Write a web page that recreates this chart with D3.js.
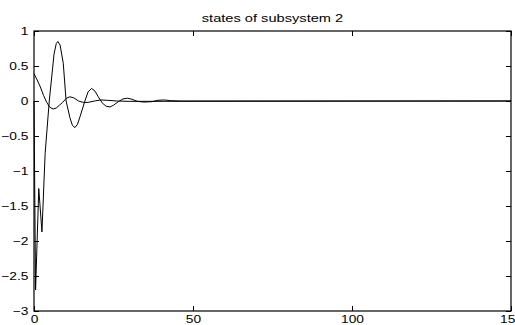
<!DOCTYPE html>
<html>
<head>
<meta charset="utf-8">
<script src="https://cdn.jsdelivr.net/npm/d3@7"></script>
<style>
  body { margin: 0; background: #fff; }
  text { font-family: "Liberation Sans", Arial, sans-serif; fill: #000; }
</style>
</head>
<body>
<div id="chart"></div>
<script>
// state 1 (large oscillation)
const t1 = [0, 0.5, 1.5, 2.5, 3.5, 4.8, 6.3, 7.0, 7.5, 8.2, 9.2, 10.1, 11.3, 12.1, 12.9, 13.7, 14.5, 16, 17, 18.1, 19.2, 20.2, 21.5, 22.7, 23.9, 25, 26.5, 28, 29.4, 30.8, 32.5, 34.5, 37, 39, 41, 43, 46, 150];
const x1 = [0, -2.7, -1.25, -1.87, -0.75, 0, 0.67, 0.82, 0.85, 0.8, 0.54, 0, -0.24, -0.35, -0.38, -0.33, -0.22, 0, 0.13, 0.18, 0.14, 0.06, -0.03, -0.075, -0.085, -0.06, -0.01, 0.03, 0.04, 0.025, -0.005, -0.015, -0.01, 0.01, 0.015, 0.005, 0, 0];
// state 2 (small oscillation)
const t2 = [0, 1, 2, 3, 4, 5, 6, 7, 8, 9, 10.2, 11.3, 12.5, 14, 15.5, 17, 19, 21, 23, 26, 30, 150];
const x2 = [0.39, 0.3, 0.2, 0.08, -0.02, -0.09, -0.115, -0.1, -0.06, -0.02, 0.04, 0.06, 0.045, 0, -0.02, -0.02, 0, 0.015, 0.01, 0, -0.005, 0];

const xTicks = [0, 50, 100, 150];
const yTicks = [-3, -2.5, -2, -1.5, -1, -0.5, 0, 0.5, 1];
const title = 'states of subsystem 2';

const W = 515, H = 325;
const margin = { left: 34, top: 31, right: 4, bottom: 14 };
const width = W - margin.left - margin.right;
const height = H - margin.top - margin.bottom;

// the reference text is a bit stretched sideways
const stretch = 1.25;

const svg = d3.select('#chart').append('svg')
  .attr('width', W)
  .attr('height', H);

const g = svg.append('g')
  .attr('transform', 'translate(' + margin.left + ',' + margin.top + ')');

const x = d3.scaleLinear().domain([0, 150]).range([0, width]);
const y = d3.scaleLinear().domain([-3, 1]).range([height, 0]);

// axes, MATLAB style: ticks inward on all sides
const tickLen = 5;
const fmt = d => String(d).replace('-', '\u2212');

g.append('g')
  .attr('transform', 'translate(0,' + height + ')')
  .call(d3.axisBottom(x).tickValues(xTicks).tickSize(-tickLen).tickPadding(4).tickFormat(fmt))
  .call(a => a.select('.domain').remove());

g.append('g')
  .call(d3.axisTop(x).tickValues(xTicks).tickSize(-tickLen).tickFormat(''))
  .call(a => a.select('.domain').remove());

g.append('g')
  .call(d3.axisLeft(y).tickValues(yTicks).tickSize(-tickLen).tickPadding(4.5).tickFormat(fmt))
  .call(a => a.select('.domain').remove());

g.append('g')
  .attr('transform', 'translate(' + width + ',0)')
  .call(d3.axisRight(y).tickValues(yTicks).tickSize(-tickLen).tickFormat(''))
  .call(a => a.select('.domain').remove());

g.selectAll('.tick line').attr('stroke', '#000');
g.selectAll('.tick text')
  .attr('font-size', '11px')
  .attr('fill', '#000')
  .attr('transform', 'scale(' + stretch + ',1)');

// frame
g.append('rect')
  .attr('width', width)
  .attr('height', height)
  .attr('fill', 'none')
  .attr('stroke', '#000')
  .attr('stroke-width', 1.2);

// lines
const line = d3.line()
  .x(d => x(d[0]))
  .y(d => y(d[1]));

g.append('path')
  .datum(d3.zip(t2, x2))
  .attr('d', line)
  .attr('fill', 'none')
  .attr('stroke', '#000')
  .attr('stroke-width', 1);

g.append('path')
  .datum(d3.zip(t1, x1))
  .attr('d', line)
  .attr('fill', 'none')
  .attr('stroke', '#000')
  .attr('stroke-width', 1);

// title
svg.append('text')
  .attr('transform', 'translate(' + (margin.left + width / 2) + ',22) scale(1.33,1)')
  .attr('text-anchor', 'middle')
  .attr('font-size', '11px')
  .text(title);
</script>
</body>
</html>
